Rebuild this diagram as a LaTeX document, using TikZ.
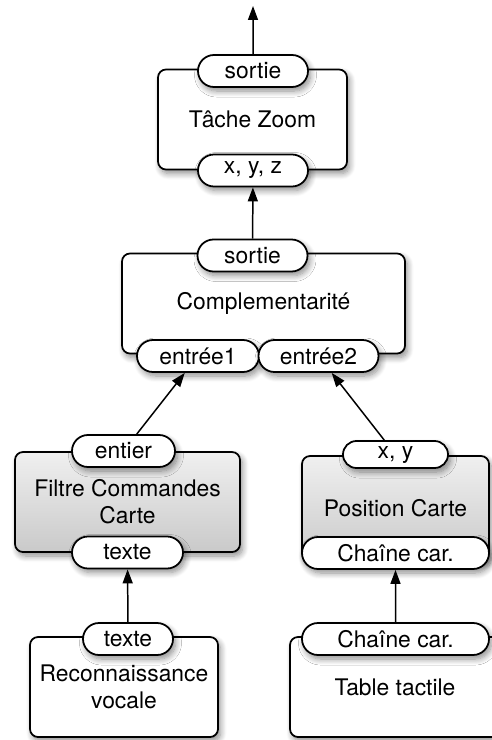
\documentclass[tikz,border=0pt]{standalone}
\usepackage{fontspec}
\setmainfont{TeX Gyre Heros}
\usepackage{tikz}
\usetikzlibrary{arrows.meta,shapes.misc,shadows.blur}

\begin{document}
\begin{tikzpicture}[x=0.2mm, y=-0.2mm,
  every node/.style={font=\fontsize{13}{15.5}\selectfont},
  shd/.style={blur shadow={shadow xshift=0.5mm, shadow yshift=-0.8mm,
              shadow blur radius=1.2mm, shadow blur steps=8, shadow opacity=45}},
  comp/.style={draw, line width=1pt, rounded corners=1.6mm, fill=white, shd,
               align=center, inner sep=0pt, minimum height=20mm},
  grad/.style={comp, top color=gray!12, bottom color=gray!42},
  port/.style={draw, line width=1pt, rounded rectangle, fill=white, shd,
               inner sep=0pt, minimum height=6.4mm},
  arr/.style={-{Triangle[length=2.8mm, width=2mm]}, line width=0.85pt}
]
\useasboundingbox (0,0) rectangle (491,740);

% components
\node[comp, minimum width=37.8mm] (zoom)  at (252.5,119.5) {Tâche Zoom};
\node[comp, minimum width=56.6mm] (compl) at (263.5,303.5) {Complementarité};
\node[grad, minimum width=45mm]   (filtre) at (127.5,502) {Filtre Commandes\\Carte};
\node[grad, minimum width=37.4mm, minimum height=20.8mm] (poscarte) at (395.5,508) {Position Carte};
\node[comp, minimum width=37.6mm] (reco)  at (124,687) {Reconnaissance\\vocale};
\node[comp, minimum width=42mm]   (table) at (395,687) {Table tactile};

% ports
\node[port, minimum width=22mm]   (zoomout)  at (253,71)     {sortie};
\node[port, minimum width=22mm]   (zoomin)   at (253,170.5)  {x, y, z};
\node[port, minimum width=22mm]   (complout) at (252.5,255.5) {sortie};
\node[port, minimum width=24.4mm] (in1)      at (198,356)    {entrée1};
\node[port, minimum width=24mm]   (in2)      at (318.5,356)  {entrée2};
\node[port, minimum width=20.6mm] (entier)   at (123.5,451)  {entier};
\node[port, minimum width=22.2mm] (ftexte)   at (127.5,552.5) {texte};
\node[port, minimum width=21mm, minimum height=5.4mm] (xy) at (395.5,454.5) {x, y};
\node[port, minimum width=37.4mm] (pchaine)  at (395.5,553)  {Chaîne car.};
\node[port, minimum width=18mm]   (rtexte)   at (128,639)    {texte};
\node[port, minimum width=37.4mm] (tchaine)  at (395.5,639)  {Chaîne car.};

\coordinate (top) at (253,6);

% connections
\draw[arr] (zoomout) -- (top);
\draw[arr] (complout) -- (zoomin);
\draw[arr] (entier) -- (in1);
\draw[arr] (xy) -- (in2);
\draw[arr] (rtexte) -- (ftexte);
\draw[arr] (tchaine) -- (pchaine);
\end{tikzpicture}
\end{document}
